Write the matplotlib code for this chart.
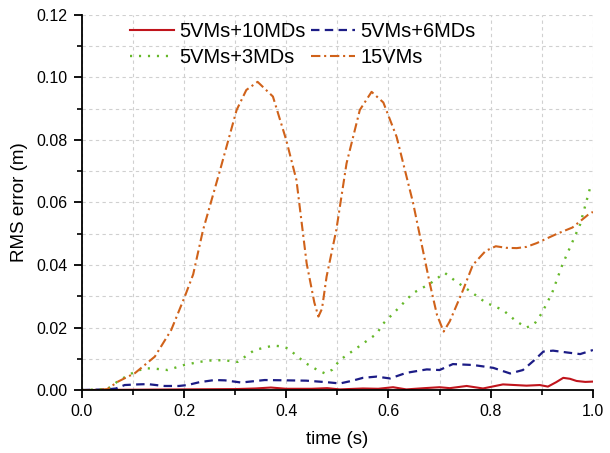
import matplotlib
matplotlib.use("Agg")
import matplotlib.pyplot as plt
from matplotlib.ticker import MultipleLocator, FormatStrFormatter

plt.rcParams['font.family'] = ['Liberation Sans', 'DejaVu Sans']

# ---- data ----
x_15 = [0.0, 0.03, 0.05, 0.071, 0.104, 0.143, 0.175, 0.2016, 0.218, 0.237, 0.254, 0.27, 0.303,
        0.322, 0.344, 0.374, 0.40, 0.42, 0.44, 0.455, 0.463, 0.47, 0.479, 0.498, 0.518, 0.544,
        0.567, 0.59, 0.616, 0.648, 0.681, 0.695, 0.708, 0.72, 0.746, 0.765, 0.79, 0.81, 0.83,
        0.851, 0.87, 0.89, 0.93, 0.96, 0.99, 1.0]
y_15 = [0.0, 0.0, 0.0003, 0.0027, 0.0054, 0.0107, 0.0192, 0.0299, 0.037, 0.051, 0.0608, 0.070, 0.0896,
        0.096, 0.0986, 0.0939, 0.080, 0.0672, 0.0405, 0.028, 0.0235, 0.026, 0.0363, 0.0512, 0.0725, 0.0896,
        0.0954, 0.092, 0.081, 0.060, 0.034, 0.024, 0.0187, 0.022, 0.032, 0.040, 0.0445, 0.046, 0.0455,
        0.0454, 0.0458, 0.047, 0.050, 0.052, 0.056, 0.057]

x_3md = [0.0, 0.05, 0.074, 0.1, 0.123, 0.145, 0.168, 0.2, 0.23, 0.26, 0.285, 0.305, 0.338, 0.374,
         0.39, 0.404, 0.42, 0.439, 0.46, 0.476, 0.49, 0.505, 0.542, 0.577, 0.59, 0.616, 0.648,
         0.681, 0.71, 0.73, 0.765, 0.79, 0.824, 0.85, 0.87, 0.885, 0.90, 0.92, 0.94, 0.975, 0.995, 1.0]
y_3md = [0.0, 0.0003, 0.0032, 0.0055, 0.007, 0.0068, 0.0064, 0.008, 0.009, 0.0096, 0.0094, 0.009, 0.0128, 0.0142,
         0.014, 0.0133, 0.011, 0.0085, 0.0065, 0.0053, 0.0065, 0.0096, 0.0139, 0.018, 0.0213, 0.0256, 0.031,
         0.034, 0.0375, 0.035, 0.031, 0.028, 0.0256, 0.022, 0.020, 0.021, 0.0246, 0.031, 0.040, 0.053, 0.065, 0.066]

x_6md = [0.0, 0.05, 0.067, 0.084, 0.11, 0.129, 0.15, 0.162, 0.19, 0.207, 0.23, 0.26, 0.28, 0.312,
         0.335, 0.358, 0.40, 0.439, 0.48, 0.505, 0.53, 0.55, 0.577, 0.603, 0.635, 0.675, 0.70,
         0.726, 0.766, 0.805, 0.838, 0.863, 0.885, 0.903, 0.922, 0.95, 0.975, 1.0]
y_6md = [0.0, 0.0002, 0.0005, 0.0016, 0.0018, 0.0019, 0.0015, 0.0013, 0.0013, 0.0016, 0.0025, 0.0032, 0.0031, 0.0024,
         0.0028, 0.0032, 0.0031, 0.003, 0.0025, 0.0021, 0.003, 0.0039, 0.0043, 0.0037, 0.0055, 0.0066, 0.0064,
         0.0083, 0.008, 0.0071, 0.0053, 0.0064, 0.0095, 0.0123, 0.0126, 0.012, 0.0115, 0.0128]

x_10md = [0.0, 0.1, 0.2, 0.3, 0.34, 0.37, 0.4, 0.45, 0.48, 0.505, 0.55, 0.58, 0.609, 0.635, 0.67,
          0.70, 0.72, 0.753, 0.785, 0.824, 0.87, 0.896, 0.912, 0.928, 0.942, 0.955, 0.968, 0.985, 1.0]
y_10md = [0.0, 0.0001, 0.0002, 0.0003, 0.0005, 0.0008, 0.0004, 0.0004, 0.0006, 0.0002, 0.0005, 0.0004, 0.0009,
          0.0002, 0.0006, 0.0009, 0.0006, 0.0013, 0.0005, 0.0018, 0.0014, 0.0016, 0.0011, 0.0025, 0.0039,
          0.0036, 0.0029, 0.0026, 0.0027]

labels = ["5VMs+10MDs", "5VMs+6MDs", "5VMs+3MDs", "15VMs"]

fig = plt.figure(figsize=(6.10, 4.53), dpi=100)
ax = fig.add_axes([0.134, 0.139, 0.838, 0.828])

l10, = ax.plot(x_10md, y_10md, color='#c0141c', lw=1.5, ls='-', label=labels[0])
l6, = ax.plot(x_6md, y_6md, color='#1c1c86', lw=1.6, ls=(0, (3.8, 2.4)), label=labels[1])
l3, = ax.plot(x_3md, y_3md, color='#66b82a', lw=1.7, ls=(0, (0.9, 2.9)), label=labels[2])
l15, = ax.plot(x_15, y_15, color='#d0621a', lw=1.5, ls=(0, (4.5, 1.8, 1.0, 1.8)), label=labels[3])

ax.set_xlim(0, 1.0)
ax.set_ylim(0, 0.12)
ax.xaxis.set_major_locator(MultipleLocator(0.2))
ax.xaxis.set_minor_locator(MultipleLocator(0.1))
ax.yaxis.set_major_locator(MultipleLocator(0.02))
ax.yaxis.set_minor_locator(MultipleLocator(0.01))
ax.xaxis.set_major_formatter(FormatStrFormatter('%.1f'))
ax.yaxis.set_major_formatter(FormatStrFormatter('%.2f'))

ax.grid(True, which='both', color='#d0d0d0', ls=(0, (3, 3)), lw=0.8)
ax.set_axisbelow(True)

for s in ['top', 'right']:
    ax.spines[s].set_visible(False)
for s in ['left', 'bottom']:
    ax.spines[s].set_linewidth(1.3)

ax.tick_params(which='major', direction='out', length=6, width=1.3, labelsize=11.5, pad=4)
ax.tick_params(which='minor', direction='out', length=3.5, width=1.2)

ax.set_xlabel('time (s)', fontsize=13.5, labelpad=9)
ax.set_ylabel('RMS error (m)', fontsize=13.5, labelpad=6)

# row-major order: (10MDs, 6MDs) / (3MDs, 15VMs)
leg = ax.legend([l10, l3, l6, l15], [labels[0], labels[2], labels[1], labels[3]],
                loc='upper left', ncol=2, frameon=False, fontsize=14.4,
                bbox_to_anchor=(0.094, 0.98), handlelength=2.2, handletextpad=0.25,
                columnspacing=0.3, labelspacing=0.32, borderaxespad=0.0, borderpad=0.0)

fig.savefig('out.png', dpi=100)
